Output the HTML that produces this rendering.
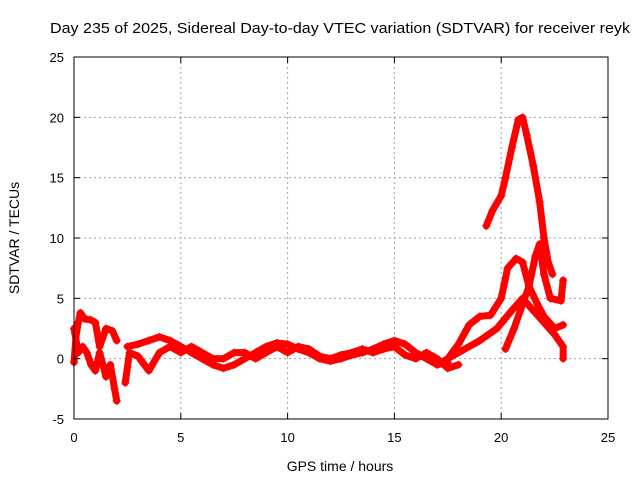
<!DOCTYPE html>
<html><head><meta charset="utf-8"><style>
body{margin:0;background:#fff;}
svg text{font-family:"Liberation Sans",sans-serif;}
</style></head><body>
<svg id="chart" width="640" height="480" xmlns="http://www.w3.org/2000/svg">
<text x="340" y="33" text-anchor="middle" font-size="15" textLength="580" lengthAdjust="spacingAndGlyphs">Day 235 of 2025, Sidereal Day-to-day VTEC variation (SDTVAR) for receiver reyk</text>
<text x="340" y="471" text-anchor="middle" font-size="14">GPS time / hours</text>
<text transform="translate(19,238) rotate(-90)" text-anchor="middle" font-size="14">SDTVAR / TECUs</text>
<g id="grid"></g><g id="marks"></g><g id="axes"></g>
</svg>
<script>
const xTicks=[0,5,10,15,20,25];
const yTicks=[-5,0,5,10,15,20,25];
const trackEarly=[[0,-0.3],[0.1,2],[0.2,3],[0.3,3.8],[0.5,3.3],[0.8,3.2],[1,3],[1.2,1],[1.5,2.5],[1.8,2.3],[2,1.5]];
const trackEarly2=[[0,2.5],[0.2,0.5],[0.4,1],[0.6,0.5],[0.8,-0.5],[1,-1],[1.2,0.5],[1.5,-1.5],[1.7,-0.5],[1.9,-2.5],[2,-3.5]];
const trackB1=[[2.5,1],[3,1.2],[3.5,1.5],[4,1.8],[4.5,1.5],[5,1],[5.5,0.5],[6,0],[6.5,-0.5],[7,-0.8],[7.5,-0.5],[8,0],[8.5,0.5],[9,1],[9.5,1.3],[10,1.2],[10.5,0.8],[11,0.5],[11.5,0],[12,-0.2],[12.5,0],[13,0.3],[13.5,0.5],[14,0.8],[14.5,1.2],[15,1.5],[15.5,1.2],[16,0.5],[16.5,0],[17,-0.5],[17.5,-0.3]];
const trackB2=[[2.4,-2],[2.6,0.5],[3,0.2],[3.5,-1],[4,0.5],[4.5,1],[5,0.5],[5.5,1],[6,0.5],[6.5,0],[7,0],[7.5,0.5],[8,0.5],[8.5,0],[9,0.5],[9.5,1],[10,0.5],[10.5,1],[11,0.8],[11.5,0.2],[12,0],[12.5,0.3],[13,0.5],[13.5,0.8],[14,0.5],[14.5,0.8],[15,1],[15.5,0.3],[16,0],[16.5,0.5],[17,0],[17.5,-0.8],[18,-0.5]];
const trackPeak=[[19.3,11],[19.6,12.3],[20,13.5],[20.2,15],[20.5,17.5],[20.8,19.8],[21,20],[21.2,18.5],[21.5,16],[21.8,13],[22,10],[22.2,8],[22.4,7]];
const trackMid=[[17.5,0],[18,1.2],[18.5,2.8],[19,3.5],[19.5,3.6],[20,5],[20.3,7.5],[20.7,8.3],[21,8],[21.3,6],[21.7,4.5],[22,3.5],[22.5,2.5],[22.9,2.8]];
const trackLow=[[17,-0.5],[18,0.5],[19,1.5],[19.8,2.5],[20.5,4],[21,5],[21.5,4],[22,3],[22.5,2],[22.9,1],[22.9,0]];
const trackRise=[[20.2,0.8],[20.6,2.5],[21,4.5],[21.3,6],[21.6,8.5],[21.8,9.5],[22,7],[22.3,5],[22.8,4.8],[22.9,6.5]];
const tracks=[trackEarly,trackEarly2,trackB1,trackB2,trackPeak,trackMid,trackLow,trackRise];
const X0=74,X1=608,Y0=419,Y1=57;
const sx=v=>X0+(v-0)/25*(X1-X0);
const sy=v=>Y0-(v+5)/30*(Y0-Y1);
const NS='http://www.w3.org/2000/svg';
function mk(t,a,p){const e=document.createElementNS(NS,t);for(const k in a)e.setAttribute(k,a[k]);p.appendChild(e);return e;}
const grid=document.getElementById('grid'),axes=document.getElementById('axes'),marks=document.getElementById('marks');
xTicks.forEach(v=>{
 if(v>0&&v<25){const l=mk('line',{x1:sx(v),x2:sx(v),y1:Y1,y2:Y0,stroke:'#a0a0a0','stroke-dasharray':'2,3'},grid);
 }
 const t=mk('text',{x:sx(v),y:Y0+23,'text-anchor':'middle','font-size':'13'},axes);t.textContent=v;
 
 mk('line',{x1:sx(v),x2:sx(v),y1:Y0,y2:Y0-6,stroke:'#000'},axes);mk('line',{x1:sx(v),x2:sx(v),y1:Y1,y2:Y1+6,stroke:'#000'},axes);
});
yTicks.forEach(v=>{
 if(v>-5&&v<25){const l=mk('line',{x1:X0,x2:X1,y1:sy(v),y2:sy(v),stroke:'#a0a0a0','stroke-dasharray':'2,3'},grid);
 }
 const t=mk('text',{x:X0-10,y:sy(v)+5,'text-anchor':'end','font-size':'13'},axes);t.textContent=v;
 
 mk('line',{x1:X0,x2:X0+6,y1:sy(v),y2:sy(v),stroke:'#000'},axes);mk('line',{x1:X1,x2:X1-6,y1:sy(v),y2:sy(v),stroke:'#000'},axes);
});
const fr=mk('rect',{x:X0,y:Y1,width:X1-X0,height:Y0-Y1,fill:'none',stroke:'#000'},axes);

tracks.forEach(tr=>{
 const pl=mk('polyline',{points:tr.map(p=>sx(p[0])+','+sy(p[1])).join(' '),fill:'none',stroke:'#f00','stroke-width':'7','stroke-linejoin':'round','stroke-linecap':'round'},marks);
 
 tr.forEach(p=>{const x=sx(p[0]),y=sy(p[1]);
  const m=mk('path',{d:`M${x-4},${y}H${x+4}M${x},${y-4}V${y+4}`,stroke:'#f00','stroke-width':'1.2'},marks);
  });
});
</script>
</body></html>
